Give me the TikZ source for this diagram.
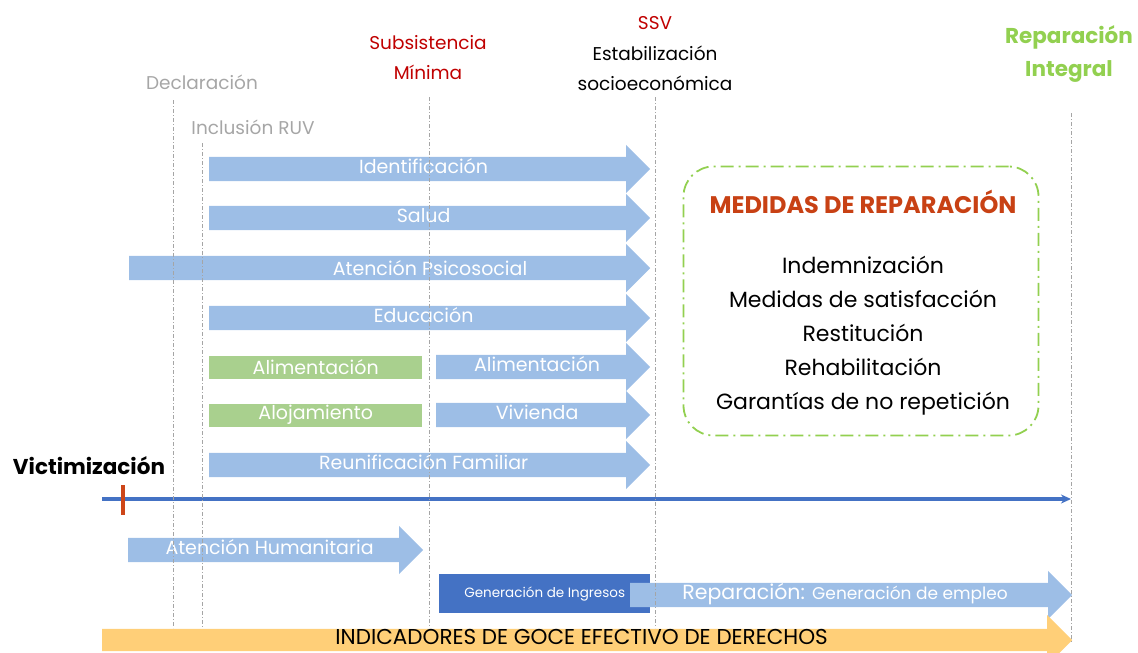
\documentclass[tikz,border=0pt]{standalone}
\usepackage{fontspec}
\setmainfont{Poppins}
\usetikzlibrary{shapes.arrows,arrows.meta}

\definecolor{arrowblue}{RGB}{157,190,230}
\definecolor{boxgreen}{RGB}{169,208,142}
\definecolor{darkblue}{RGB}{68,114,196}
\definecolor{guidegray}{RGB}{165,165,165}
\definecolor{labelgray}{RGB}{166,166,166}
\definecolor{titlered}{RGB}{192,0,0}
\definecolor{medidasred}{RGB}{200,65,20}
\definecolor{lightgreen}{RGB}{146,208,80}
\definecolor{barorange}{RGB}{255,207,120}
\definecolor{tickred}{RGB}{205,70,25}

\begin{document}
\begin{tikzpicture}[x=1pt,y=-1pt,
    phase/.style={single arrow, fill=arrowblue, text=white, anchor=west,
      font=\fontsize{19}{22}\selectfont, inner xsep=0pt, inner ysep=3.5pt,
      text height=13pt, text depth=4pt,
      single arrow head extend=12pt, single arrow head indent=0pt},
    greenbox/.style={fill=boxgreen, text=white, anchor=west, inner sep=0pt,
      minimum height=23pt, font=\fontsize{19}{22}\selectfont},
    guide/.style={guidegray, line width=0.7pt, dash pattern=on 4pt off 2pt on 1pt off 2pt},
    milestone/.style={align=center, font=\fontsize{18.5}{30}\selectfont}]
    \useasboundingbox (0,0) rectangle (1138,653);

    % milestones on top
    \node[milestone, text=labelgray] (decl) at (202,82) {Declaración};
    \node[milestone, text=labelgray] (ruv) at (253,127) {Inclusión RUV};
    \node[milestone, text=titlered] (subs) at (428,58) {Subsistencia\\Mínima};
    \node[milestone, text=titlered] (ssv) at (655,23) {SSV};
    \node[milestone] (estab) at (655,68) {Estabilización\\socioeconómica};
    \node[milestone, text=lightgreen, font=\fontsize{21.5}{33}\selectfont\bfseries] (repint) at (1069,54) {Reparación\\Integral};

    % blue phases
    \node[phase, minimum height=441pt] (ident) at (209,169) {Identificación};
    \node[phase, minimum height=441pt] (salud) at (209,218) {Salud};
    \node[phase, minimum height=521pt] (psico) at (129,268) {};
    \node[text=white, font=\fontsize{19}{22}\selectfont] (psicotext) at (430,268) {Atención Psicosocial};
    \node[phase, minimum height=441pt] (educ) at (209,318) {Educación};
    \node[greenbox, minimum width=213pt] (alim1) at (209,367) {Alimentación};
    \node[phase, minimum height=214pt] (alim2) at (436,367) {Alimentación};
    \node[greenbox, minimum width=213pt] (aloj) at (209,415) {Alojamiento};
    \node[phase, minimum height=214pt] (viv) at (436,415) {Vivienda};
    \node[phase, minimum height=441pt] (reunif) at (209,465) {Reunificación Familiar};

    % timeline
    \node[font=\fontsize{21.5}{24}\selectfont\bfseries] (victim) at (89,466) {Victimización};
    \coordinate (tstart) at (102,499);
    \coordinate (tend) at (1071,499);
    \draw[darkblue, line width=3.4pt, -{Stealth[length=10pt,width=9pt]}] (tstart) -- (tend);
    \coordinate (ticktop) at (123,485);
    \coordinate (tickbot) at (123,515);
    \draw[tickred, line width=3.4pt] (ticktop) -- (tickbot);

    % below the timeline
    \node[phase, minimum height=295pt] (human) at (128,550) {Atención Humanitaria};
    \node[fill=darkblue, text=white, anchor=north west, inner sep=0pt, minimum width=211pt,
      minimum height=39pt, font=\fontsize{13.5}{16}\selectfont] (ingresos) at (439,574) {Generación de Ingresos};
    \node[phase, minimum height=442pt, font=\fontsize{20.5}{22}\selectfont] (empleo) at (630,595)
      {Reparación: {\fontsize{17}{19}\selectfont Generación de empleo}};
    \node[phase, minimum height=970pt, fill=barorange, text=black, font=\fontsize{21.5}{23}\selectfont,
      inner ysep=2.5pt, single arrow head extend=14pt] (goce) at (102,640)
      {INDICADORES DE GOCE EFECTIVO DE DERECHOS};

    % guide lines
    \foreach \x/\ytop/\ybot in {173/100/628, 202/143/628, 429/97/628, 655/97/628, 1071/113/642}
        \draw[guide] (\x,\ytop) -- (\x,\ybot);

    % reparation measures
    \node[draw=lightgreen, line width=1.8pt, rounded corners=30pt,
      dash pattern=on 13pt off 5pt on 2pt off 5pt,
      minimum width=355pt, minimum height=269pt] (medidas) at (861,301) {};
    \node[text=medidasred, font=\fontsize{24}{28}\selectfont\bfseries] (medtitle) at (863,202) {MEDIDAS DE REPARACIÓN};
    \node[align=center, font=\fontsize{22}{34}\selectfont] (medlist) at (863,336)
      {Indemnización\\Medidas de satisfacción\\Restitución\\Rehabilitación\\Garantías de no repetición};
\end{tikzpicture}
\end{document}
